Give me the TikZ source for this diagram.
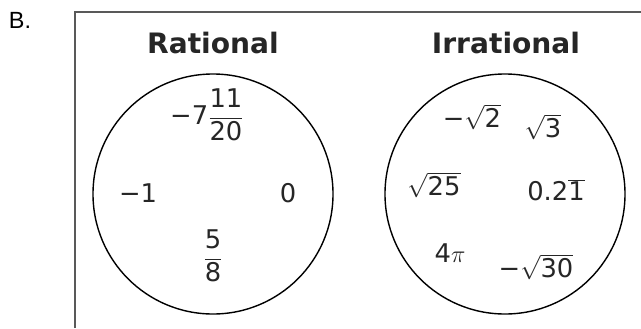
\documentclass[tikz,border=0pt]{standalone}
\usepackage{fontspec}
\setmainfont{DejaVu Sans}
\newfontfamily\tagfont{Liberation Sans}
\newcommand{\rt}[1]{\ensuremath{\sqrt{\hbox{#1}}}}

\begin{document}
\begin{tikzpicture}[
    x       = 0.03cm,
    y       = -0.03cm,
    frame/.style  = {draw = black!65, line width = 1.7pt},
    set/.style    = {
      draw          = black,
      line width    = 1.2pt,
      circle,
      minimum size  = 7.2cm,
      inner sep     = 0pt
    },
    title/.style  = {font = \fontsize{24}{28}\selectfont\bfseries, text = black!85},
    member/.style = {font = \fontsize{22}{26}\selectfont, text = black!85, inner sep = 0pt}
  ]
  \useasboundingbox (0,0) rectangle (641,328);

  % outer frame, open at the bottom and right
  \draw[frame] (75,328) -- (75,12) -- (641,12);
  \node[font = \tagfont\fontsize{20}{24}\selectfont] (tag) at (20,20) {B.};

  % the two sets
  \node[title] (ratTitle) at (213,43) {Rational};
  \node[title] (irrTitle) at (506,43) {Irrational};
  \node[set] (ratSet) at (213,194) {};
  \node[set] (irrSet) at (505,194) {};

  % rational members
  \node[member] (mixed)       at (207,115) {−7\(\displaystyle\frac{\hbox{11}}{\hbox{20}}\)};
  \node[member] (negOne)      at (138,193) {−1};
  \node[member] (zero)        at (288,193) {0};
  \node[member] (fiveEighths) at (213,256) {\(\displaystyle\frac{\hbox{5}}{\hbox{8}}\)};

  % irrational members
  \node[member] (negRootTwo)     at (472,117) {−\rt{2}};
  \node[member] (rootThree)      at (543,127) {\rt{3}};
  \node[member] (rootTwentyFive) at (434,185) {\rt{25}};
  \node[member] (repeating)      at (556,190) {0.2\(\overline{\hbox{1}}\)};
  \node[member] (fourPi)         at (450,253) {4\(\pi\)};
  \node[member] (negRootThirty)  at (536,267) {−\rt{30}};
\end{tikzpicture}
\end{document}
